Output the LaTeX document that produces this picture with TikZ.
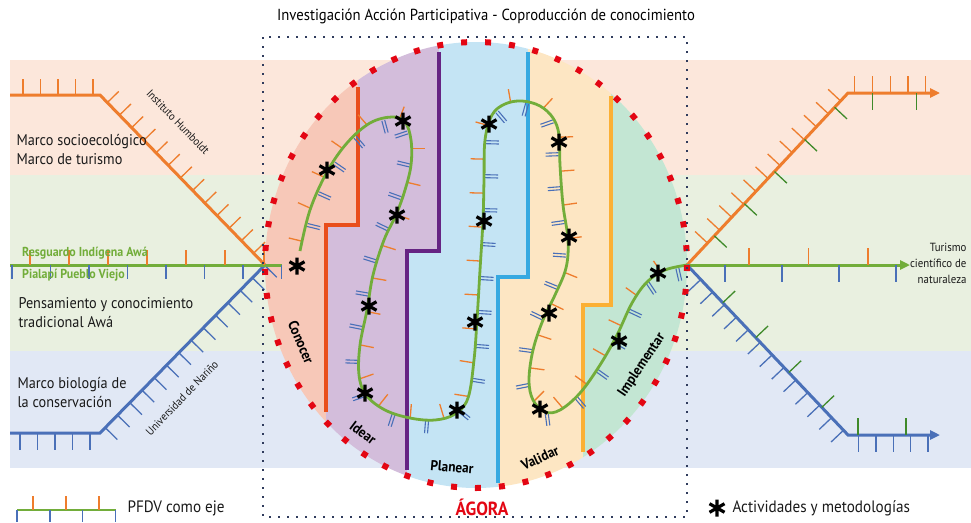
\documentclass[tikz,border=0pt]{standalone}
\usepackage{fontspec}
\setmainfont{PT Sans}[FakeStretch=0.92]
\usetikzlibrary{arrows.meta,decorations.markings}

\definecolor{bandorange}{HTML}{FCE7DB}
\definecolor{bandgreen}{HTML}{E9F0E0}
\definecolor{bandblue}{HTML}{E1E8F5}
\definecolor{pathorange}{HTML}{EE7D2D}
\definecolor{pathblue}{HTML}{4A70B8}
\definecolor{pathgreen}{HTML}{72AD3A}
\definecolor{tickgreen}{HTML}{3F8A2A}
\definecolor{agorared}{HTML}{E30613}
\definecolor{framenavy}{HTML}{2F3B5C}
\definecolor{conocerfill}{HTML}{F7C8B8}
\definecolor{idearfill}{HTML}{D3BDDB}
\definecolor{planearfill}{HTML}{C4E4F4}
\definecolor{validarfill}{HTML}{FDE6C3}
\definecolor{implfill}{HTML}{C3E6D3}
\definecolor{conocerline}{HTML}{E94E1B}
\definecolor{idearline}{HTML}{662483}
\definecolor{planearline}{HTML}{36A9E1}
\definecolor{validarline}{HTML}{FBB034}

\tikzset{
  tickrow/.style n args={4}{postaction={decorate,decoration={markings,
      mark=between positions #1 and 1 step #2 with {\draw[-,#3,line width=1.3pt] (0pt,0pt) -- (0pt,#4);}}}},
  tickpair/.style n args={2}{postaction={decorate,decoration={markings,
      mark=between positions #1 and 1 step #2 with {\draw[-,pathblue,line width=1.1pt] (-1.5pt,-1pt) -- (-1.5pt,-14pt) (1.5pt,-1pt) -- (1.5pt,-14pt);}}}},
  axis/.style={line width=3pt},
  tip/.style={-{Triangle[length=10pt,width=9pt]}},
  stepline/.style={line width=4pt},
  astk/.pic={\draw[line width=3.2pt,black] (0,-8.5) -- (0,8.5) (-7.5,-4.3) -- (7.5,4.3) (-7.5,4.3) -- (7.5,-4.3);},
  txt/.style={font=\fontsize{15.5}{19}\selectfont,align=left,anchor=west,text=black!90},
  legtxt/.style={font=\fontsize{16.5}{19}\selectfont,anchor=west,text=black!90},
  small/.style={font=\fontsize{11.3}{13}\selectfont,text=black!90},
  lbl/.style={font=\bfseries\fontsize{14.4}{16}\selectfont},
  awa/.style={font=\bfseries\fontsize{13}{14}\selectfont,text=pathgreen,anchor=west,inner sep=0pt}
}

\def\pfdvpts{(300,251) (310,210) (327,172) (347,143) (370,123) (392,117)
  (405,122) (411,140) (411,165) (405,190) (396,215) (384,240) (373,275) (367,310) (360,345)
  (359,375) (366,395) (385,410) (410,418) (435,420) (455,414) (468,398) (474,360) (477,320)
  (480,270) (483,220) (484,180) (485,140) (492,115) (505,104) (522,101) (540,106) (553,118)
  (559,135) (560,165) (563,205) (568,240) (566,268) (555,295) (543,320) (533,350) (529,380)
  (533,400) (545,412) (560,410) (580,393) (600,365) (617,335) (632,303) (647,282) (665,270) (687,265)}

\begin{document}
\begin{tikzpicture}[x=1pt,y=-1pt]
\useasboundingbox (0,0) rectangle (971,522);

\fill[bandorange] (10,60) rectangle (971,175);
\fill[bandgreen] (10,175) rectangle (971,351);
\fill[bandblue] (10,351) rectangle (971,468);

\coordinate (agora) at (476,265);
\begin{scope}
  \clip (agora) ellipse [x radius=211, y radius=223];
  \fill[conocerfill] (250,30) -| (358,225) -| (326,500) -- (250,500) -- cycle;
  \fill[idearfill] (358,30) -| (439,251) -| (407,500) -| (326,225) -| (358,30) -- cycle;
  \fill[planearfill] (439,30) -| (528,277) -| (498,500) -| (407,251) -| (439,30) -- cycle;
  \fill[validarfill] (528,30) -| (611,305) -| (583,500) -| (498,277) -| (528,30) -- cycle;
  \fill[implfill] (611,30) -| (700,500) -| (583,305) -| (611,30) -- cycle;
\end{scope}

\draw[stepline,conocerline] (358,87) |- (326,225) -- (326,412);
\draw[stepline,idearline] (439,52) |- (407,251) -- (407,470);
\draw[stepline,planearline] (528,52) |- (498,277) -- (498,483);
\draw[stepline,validarline] (611,96) |- (583,305) -- (583,452);

% ejes de entrada y salida
\coordinate (hubL) at (265,265);
\coordinate (hubR) at (687,265);
\coordinate (humbA) at (10,95);
\coordinate (humbB) at (100,95);
\coordinate (udenA) at (10,433);
\coordinate (udenB) at (100,433);
\coordinate (awaA) at (10,265);
\coordinate (awaB) at (282,265);
\coordinate (turO) at (848,93);
\coordinate (turOend) at (940,93);
\coordinate (turG) at (910,265);
\coordinate (turB) at (848,435);
\coordinate (turBend) at (940,435);

\draw[axis,pathorange,tickrow={13pt}{17.5pt}{pathorange}{16pt}] (humbA) -- (humbB) -- (hubL);
\draw[axis,pathblue,tickrow={10pt}{17.5pt}{pathblue}{-17pt}] (udenA) -- (udenB) -- (hubL);
\draw[axis,pathgreen,tickrow={20pt}{39pt}{pathorange}{15pt},tickrow={2pt}{38.5pt}{pathblue}{-14pt}] (awaA) -- (awaB);

\draw[axis,pathorange,tip,tickrow={30pt}{17.7pt}{pathorange}{17pt},tickrow={40pt}{44pt}{tickgreen}{-17pt}] (hubR) -- (turO) -- (turOend);
\draw[axis,pathgreen,tip,tickrow={62pt}{59.5pt}{pathorange}{17pt},tickrow={38pt}{57pt}{pathblue}{-17pt}] (hubR) -- (turG);
\draw[axis,pathblue,tip,tickrow={20pt}{17.3pt}{pathblue}{-17pt},tickrow={52pt}{48pt}{tickgreen}{17pt}] (hubR) -- (turB) -- (turBend);

% PFDV dentro del agora
\path[tickrow={10pt}{34pt}{pathorange}{14pt},tickpair={27pt}{34pt}] plot[sharp plot] coordinates {\pfdvpts};
\draw[pathgreen,line width=2.8pt] plot[smooth,tension=0.6] coordinates {\pfdvpts};

\draw[agorared,line width=6pt,dash pattern=on 6pt off 18pt] (agora) ellipse [x radius=211, y radius=223];
\draw[framenavy,line width=2pt,dash pattern=on 2pt off 7pt] (263,37) rectangle (687,517);

\foreach \p in {(297,266),(327,170),(403,121),(397,215),(369,306),(365,393),(457,410),(475,322),
  (484,221),(489,124),(559,142),(569,237),(549,313),(540,409),(619,341),(658,273)}
  \pic at \p {astk};

\node[font=\fontsize{16}{18}\selectfont] (title) at (486,16) {Investigación Acción Participativa - Coproducción de conocimiento};

\node[txt] (socio) at (13,150) {Marco socioecológico\\Marco de turismo};
\node[txt] (awatxt) at (15,313) {Pensamiento y conocimiento\\tradicional Awá};
\node[txt] (biocons) at (14,393) {Marco biología de\\la conservación};
\node[awa] (resguardo) at (22,253) {Resguardo Indígena Awá};
\node[awa] (pialapi) at (22,275) {Pialapí Pueblo Viejo};
\node[small,rotate=-46] (humboldt) at (178,122) {Instituto Humboldt};
\node[small,rotate=46] (udenar) at (182,398) {Universidad de Nariño};
\node[small,font=\fontsize{11.8}{16}\selectfont,align=right,anchor=east] (turismo) at (970,263) {Turismo\\científico de\\naturaleza};

\node[lbl,rotate=-67] (conocer) at (301,342) {Conocer};
\node[lbl,rotate=-37] (idear) at (363,433) {Idear};
\node[lbl,rotate=-5] (planear) at (452,467) {Planear};
\node[lbl,rotate=25] (validar) at (540,458) {Validar};
\node[lbl,rotate=56] (implementar) at (642,365) {Implementar};
\node[font=\bfseries\fontsize{19}{21}\selectfont,text=agorared] (agoralbl) at (482,507) {ÁGORA};

% leyenda
\coordinate (legA) at (17,510);
\coordinate (legB) at (116,510);
\draw[pathgreen,line width=2.5pt,tickrow={16pt}{33pt}{pathorange}{14pt},tickrow={0pt}{32.9pt}{pathblue}{-12pt}] (legA) -- (legB);
\node[legtxt] (pfdv) at (124,508) {PFDV como eje};
\pic at (717,508) {astk};
\node[legtxt] (activ) at (729,508) {Actividades y metodologías};
\end{tikzpicture}
\end{document}
